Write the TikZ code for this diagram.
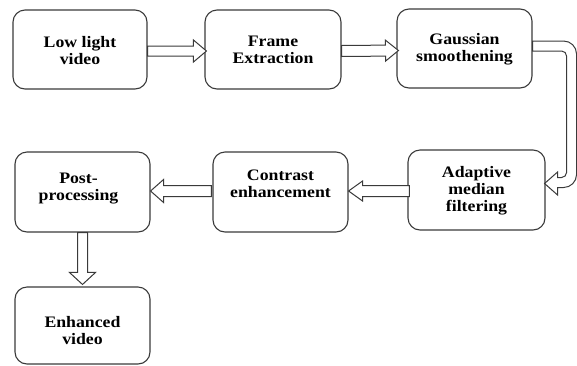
\documentclass[tikz,border=0pt]{standalone}
\usepackage{fontspec}
\setmainfont{Liberation Serif}[FakeStretch=1.11]
\usetikzlibrary{calc}

\definecolor{edge}{HTML}{3A3A3A}

% hollow block arrow from #1 to #2: shaft half width #3, head half width #4, head length #5
\newcommand{\blockarrow}[5]{%
  \coordinate (hb) at ($(#2)!#5!(#1)$);
  \draw[blk] ($(#1)!#3!90:(#2)$) -- ($(hb)!#3!90:(#2)$) -- ($(hb)!#4!90:(#2)$)
    -- (#2) -- ($(hb)!#4!-90:(#2)$) -- ($(hb)!#3!-90:(#2)$)
    -- ($(#1)!#3!-90:(#2)$) -- cycle;
}

\begin{document}
\begin{tikzpicture}[x=1pt,y=-1pt,
  box/.style={draw=edge, line width=1.1pt, rounded corners=12pt,
    minimum width=135pt, minimum height=79pt, inner sep=0pt},
  lbl/.style={align=center, font=\fontsize{16}{17}\selectfont\bfseries,
    inner sep=0pt, text=black},
  blk/.style={draw=edge, line width=1pt, fill=white, line join=miter}]
\useasboundingbox (0,0) rectangle (577,365);

% process boxes
\node[box, minimum width=134pt] (b1) at (80,49.5) {};
\node[box, minimum width=136pt] (b2) at (273,49.5) {};
\node[box] (b3) at (464.5,48.5) {};
\node[box, minimum width=137pt, minimum height=80pt] (b4) at (476.5,190) {};
\node[box, minimum height=80pt] (b5) at (280.5,192) {};
\node[box, minimum height=80pt] (b6) at (82.5,192) {};
\node[box, minimum height=77pt] (b7) at (82.5,325.5) {};

% box texts
\node[lbl] (t1) at ($(b1)+(0,1)$) {Low light\\video};
\node[lbl] (t2) at ($(b2)+(0,0)$) {Frame\\Extraction};
\node[lbl] (t3) at ($(b3)+(0,1)$) {Gaussian\\smoothening};
\node[lbl] (t4) at ($(b4)+(0,1)$) {Adaptive\\median\\filtering};
\node[lbl] (t5) at ($(b5)+(0,-8)$) {Contrast\\enhancement};
\node[lbl] (t6) at ($(b6)+(-4,-3)$) {Post-\\processing};
\node[lbl] (t7) at ($(b7)+(0,5)$) {Enhanced\\video};

% straight block arrows
\coordinate (a1s) at ($(b1.east)+(0,1.5)$);
\coordinate (a1e) at ($(b2.west)+(2,1.5)$);
\blockarrow{a1s}{a1e}{5pt}{11pt}{13pt}
\coordinate (a2s) at ($(b2.east)+(0,1.5)$);
\coordinate (a2e) at ($(b3.west)+(2,2)$);
\blockarrow{a2s}{a2e}{5.5pt}{10.5pt}{13pt}
\coordinate (a3s) at ($(b4.west)+(2,1)$);
\coordinate (a3e) at ($(b5.east)+(0,-1)$);
\blockarrow{a3s}{a3e}{5.5pt}{10pt}{14pt}
\coordinate (a4s) at ($(b5.west)+(-1,-1)$);
\coordinate (a4e) at ($(b6.east)+(0,-1)$);
\blockarrow{a4s}{a4e}{5.5pt}{11.5pt}{13pt}
\coordinate (a5s) at ($(b6.south)+(0,0)$);
\coordinate (a5e) at ($(b7.north)+(0,-2)$);
\blockarrow{a5s}{a5e}{5pt}{13pt}{12pt}

% bent block arrow from the smoothing step down to the filtering step
\draw[blk] ($(b3.east)+(0,-7.5)$) -- ($(b3.east)+(31,-7.5)$)
  arc[start angle=-90, end angle=0, radius=13]
  -- ($(b4.east)+(31,-15.5)$)
  arc[start angle=0, end angle=90, radius=13]
  -- ($(b4.east)+(12,-2.5)$) -- ($(b4.east)+(12,5)$)
  -- ($(b4.east)+(-1,-6.5)$)
  -- ($(b4.east)+(12,-18)$) -- ($(b4.east)+(12,-12.5)$)
  -- ($(b4.east)+(16,-12.5)$)
  arc[start angle=90, end angle=0, radius=5]
  -- ($(b3.east)+(34,7.5)$)
  arc[start angle=0, end angle=-90, radius=5]
  -- ($(b3.east)+(0,2.5)$) -- cycle;
\end{tikzpicture}
\end{document}
